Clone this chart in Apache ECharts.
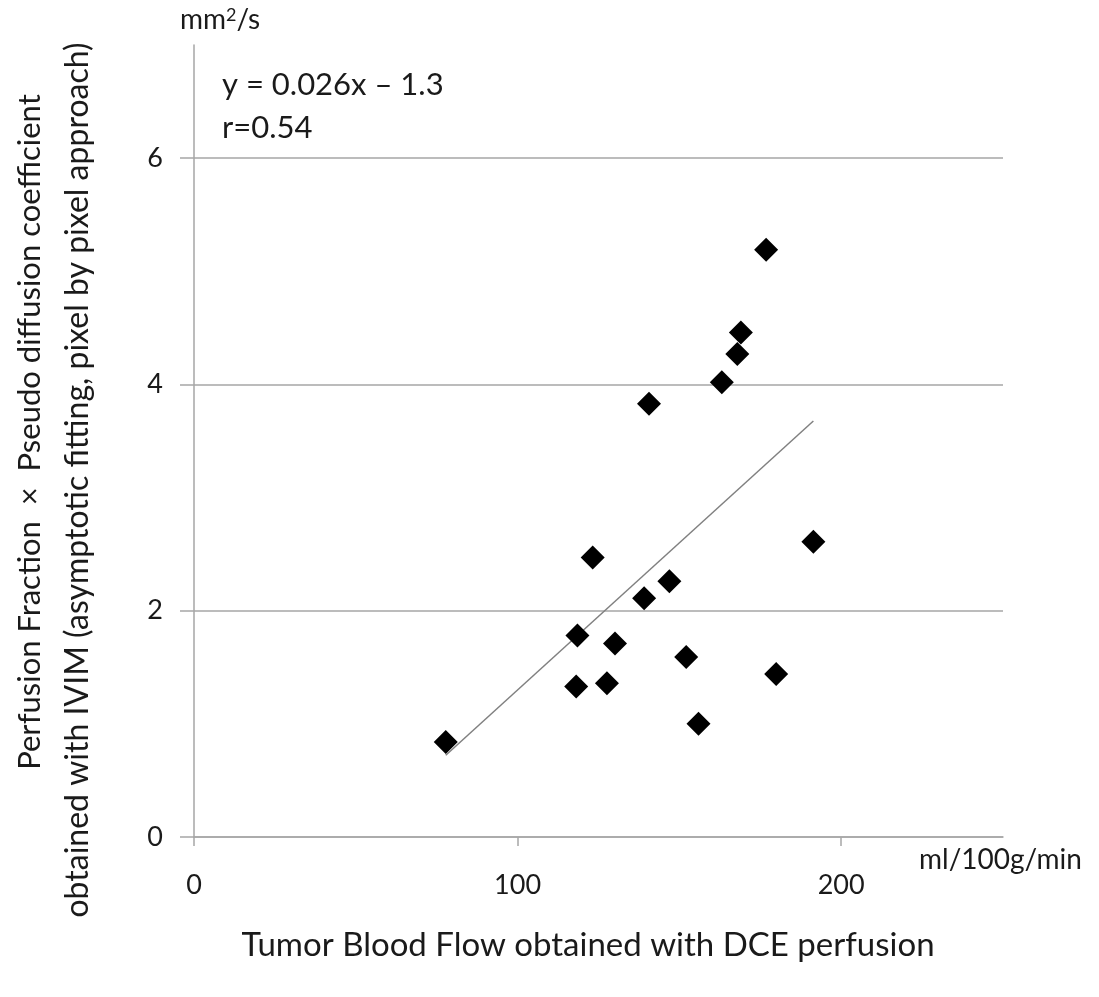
<!DOCTYPE html>
<html>
<head>
<meta charset="utf-8">
<script src="https://cdn.jsdelivr.net/npm/echarts@6/dist/echarts.min.js"></script>
<style>
  html, body { margin: 0; padding: 0; background: #fff; }
  #scatter { width: 1099px; height: 997px; }
</style>
</head>
<body>
<div id="scatter"></div>
<script>
  // tumor blood flow (ml/100g/min)
  const flowValues = [176.8, 169.0, 167.9, 163.1, 140.6, 191.4, 123.2, 146.9, 139.1,
                      118.5, 130.1, 152.1, 179.9, 118.1, 127.6, 155.9, 77.8]
  // f x D* (mm2/s)
  const fdValues = [5.19, 4.46, 4.27, 4.02, 3.83, 2.61, 2.47, 2.26, 2.11,
                    1.78, 1.71, 1.59, 1.44, 1.33, 1.36, 1.00, 0.84]
  const xTicks = [0, 100, 200]
  const yTicks = [0, 2, 4, 6]
  const slope = 0.026
  const intercept = -1.3

  const font = 'Lato'
  const gray = '#a6a6a6'
  const ink = '#1a1a1a'

  const points = flowValues.map((x, i) => [x, fdValues[i]])
  const xMin = Math.min(...flowValues)
  const xMax = Math.max(...flowValues)
  const trend = [[xMin, slope * xMin + intercept], [xMax, slope * xMax + intercept]]

  const chart = echarts.init(document.getElementById('scatter'))
  chart.setOption({
    animation: false,
    grid: { left: 194, right: 96, top: 45, bottom: 160 },
    xAxis: {
      type: 'value',
      min: 0,
      max: 250,
      axisLine: { lineStyle: { color: gray, width: 1.5 } },
      axisTick: { show: true, length: 9, customValues: xTicks, lineStyle: { color: gray, width: 1.5 } },
      axisLabel: { customValues: xTicks, margin: 35, fontSize: 27, color: ink, fontFamily: font },
      splitLine: { show: false }
    },
    yAxis: {
      type: 'value',
      min: 0,
      max: 7,
      axisLine: { show: true, lineStyle: { color: gray, width: 1.5 } },
      axisTick: { show: true, length: 14, customValues: yTicks, lineStyle: { color: gray, width: 1.5 } },
      axisLabel: { customValues: yTicks, margin: 31, fontSize: 27, color: ink, fontFamily: font },
      splitLine: { show: true, lineStyle: { color: gray, width: 1.5 } }
    },
    graphic: [
      { type: 'text', left: 180, top: 6,
        style: { text: 'mm{sup|2}/s', fontSize: 28, fill: ink, fontFamily: font,
                 rich: { sup: { fontSize: 18, verticalAlign: 'top', padding: [0, 0, 10, 0], fill: ink, fontFamily: font } } } },
      { type: 'text', left: 222, top: 69,
        style: { text: 'y = 0.026x – 1.3', fontSize: 31, fill: ink, fontFamily: font } },
      { type: 'text', left: 222, top: 112,
        style: { text: 'r=0.54', fontSize: 31, fill: ink, fontFamily: font } },
      { type: 'text', left: 919, top: 846,
        style: { text: 'ml/100g/min', fontSize: 28, fill: ink, fontFamily: font } },
      { type: 'text', x: 588, y: 945,
        style: { text: 'Tumor Blood Flow obtained with DCE perfusion', fontSize: 33, fill: ink,
                 fontFamily: font, align: 'center', verticalAlign: 'middle' } },
      { type: 'text', x: 30, y: 432, rotation: Math.PI / 2,
        style: { text: 'Perfusion Fraction  ×  Pseudo diffusion coefficient', fontSize: 31, fill: ink,
                 fontFamily: font, align: 'center', verticalAlign: 'middle' } },
      { type: 'text', x: 78, y: 480, rotation: Math.PI / 2,
        style: { text: 'obtained with IVIM (asymptotic fitting, pixel by pixel approach)', fontSize: 32, fill: ink,
                 fontFamily: font, align: 'center', verticalAlign: 'middle' } }
    ],
    series: [
      {
        type: 'line',
        data: trend,
        symbol: 'none',
        lineStyle: { color: '#808080', width: 1.5 },
        z: 1
      },
      {
        type: 'scatter',
        data: points,
        symbol: 'diamond',
        symbolSize: 24,
        itemStyle: { color: '#000', opacity: 1 },
        z: 3
      }
    ]
  })
</script>
</body>
</html>
